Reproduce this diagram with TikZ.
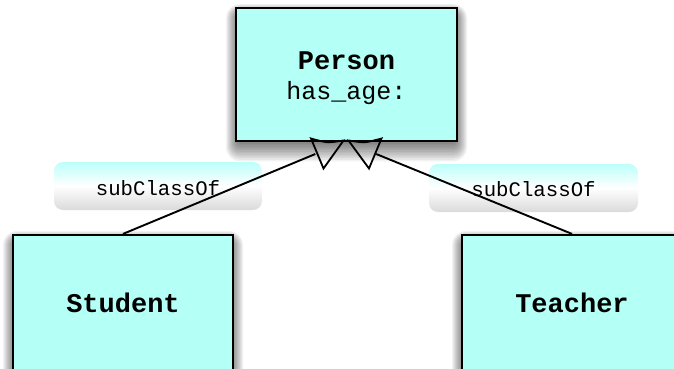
\documentclass[tikz,border=0pt]{standalone}
\usepackage{fontspec}
\setmonofont{Liberation Mono}
\definecolor{boxcyan}{RGB}{180,255,246}
\definecolor{lbltop}{RGB}{188,255,250}
\definecolor{lblbot}{RGB}{218,218,218}
\newcommand{\softshadow}[4]{%
  \foreach \k in {1,...,14}{%
    \fill[black,opacity=0.05,rounded corners=\k pt]
      ({#1+4-\k},{#2+10-\k}) rectangle ({#3-4+\k},{#4-2+1.6*\k});
  }%
}
% place a line of text with its baseline #1 above the node centre, taking no room
\newcommand{\txtat}[2]{\smash{\makebox[0pt]{\raisebox{#1}{#2}}}}
\tikzset{
  classbox/.style={draw=black,line width=2.2pt,fill=boxcyan,rectangle,inner sep=0pt,
    font=\ttfamily\bfseries\fontsize{27}{32}\selectfont},
  relbox/.style={rectangle,rounded corners=9pt,top color=lbltop,bottom color=lblbot,
    middle color=white,inner sep=0pt,font=\ttfamily\fontsize{20.7}{24}\selectfont},
  conn/.style={line width=1.9pt,black},
  gentri/.style={line width=1.8pt,black,line join=miter}
}
\begin{document}
\begin{tikzpicture}[x=1pt,y=-1pt]
\useasboundingbox (0,0) rectangle (674,369);
\clip (0,0) rectangle (674,369);
% shadows
\softshadow{236}{8}{457}{141}
\softshadow{13}{235}{233}{380}
\softshadow{462}{235}{682}{380}
% classes
\node[classbox,minimum width=221pt,minimum height=133pt] (person) at (346.5,74.5)
  {\txtat{5.5pt}{Person}\txtat{-24.5pt}{\mdseries\fontsize{25}{30}\selectfont has\_age:}};
\node[classbox,minimum width=220pt,minimum height=145pt] (student) at (123,307.5) {\txtat{-4.5pt}{Student}};
\node[classbox,minimum width=220pt,minimum height=145pt] (teacher) at (572,307.5) {\txtat{-4.5pt}{Teacher}};
% relation labels
\node[relbox,minimum width=208pt,minimum height=48pt] (lbl1) at (158,186) {\txtat{-9pt}{subClassOf}};
\node[relbox,minimum width=209pt,minimum height=48pt] (lbl2) at (533.5,188) {\txtat{-8pt}{subClassOf}};
% generalisation triangles
\coordinate (t1a) at (311,138.5);
\coordinate (t1b) at (343.5,140.5);
\coordinate (t1c) at (323.5,168.5);
\coordinate (t2a) at (348.5,140.5);
\coordinate (t2b) at (381.5,138.5);
\coordinate (t2c) at (369,168.5);
\draw[gentri] (t1a) .. controls (327,143) .. (t1b) -- (t1c) -- cycle;
\draw[gentri] (t2a) .. controls (365,143) .. (t2b) -- (t2c) -- cycle;
\coordinate (e1) at (315.3,154);
\coordinate (e2) at (376.2,154);
% connectors
\draw[conn] (student.north) -- (e1);
\draw[conn] (teacher.north) -- (e2);
\end{tikzpicture}
\end{document}
